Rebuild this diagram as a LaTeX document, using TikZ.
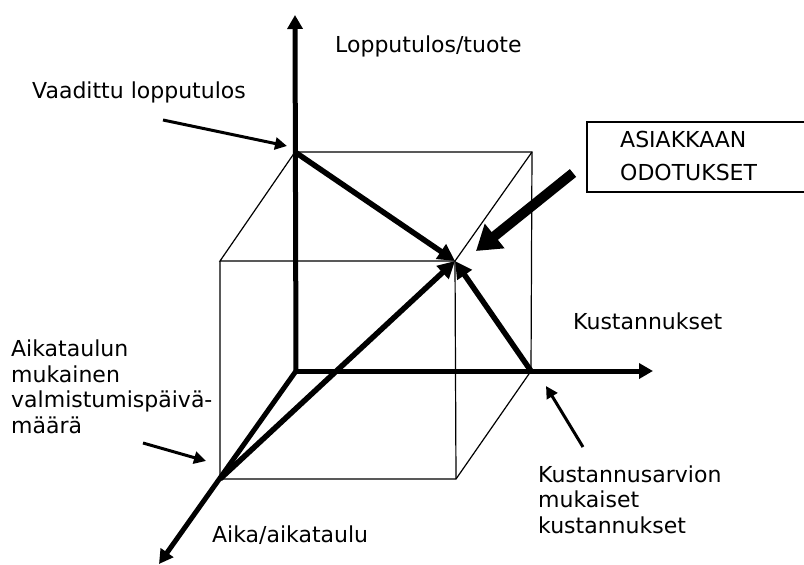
\documentclass[tikz,border=0pt]{standalone}
\usepackage{fontspec}
\setmainfont{DejaVu Sans}
\usetikzlibrary{arrows.meta}
\begin{document}
\begin{tikzpicture}[x=1pt,y=-1pt,
  lbl/.style={inner sep=0pt,anchor=base west,align=left,font=\fontsize{22}{25.5}\selectfont},
  boxlbl/.style={inner sep=0pt,anchor=base west,align=left,font=\fontsize{22}{33}\selectfont},
  axis/.style={line width=5pt,-{Triangle[length=14pt,width=15pt]}},
  edge/.style={line width=1.2pt},
  pull/.style={line width=5.5pt,-{Triangle[length=17pt,width=17pt]}},
  note/.style={line width=3pt,-{Triangle[length=12pt,width=12pt]}},
  bigpull/.style={line width=10pt,-{Triangle[length=24pt,width=30pt]}}]
\useasboundingbox (0,0) rectangle (804,565);

% corner points of the cube
\coordinate (O) at (296,371);
\coordinate (A) at (295,152);
\coordinate (B) at (532,152);
\coordinate (C) at (220,261);
\coordinate (T) at (455,261);
\coordinate (D) at (220,479);
\coordinate (E) at (456,479);
\coordinate (F) at (531,371);
% axis ends
\coordinate (Ytip) at (295,15);
\coordinate (Xtip) at (653,371);
\coordinate (Ztip) at (159,564);

% thin cube edges
\draw[edge] (A) -- (B) -- (F);
\draw[edge] (A) -- (C) -- (T) -- (B);
\draw[edge] (C) -- (D) -- (E) -- (F);
\draw[edge] (T) -- (E);

% axes
\draw[axis] (O) -- (Ytip);
\draw[axis] (O) -- (Xtip);
\draw[axis] (O) -- (Ztip);

% arrows meeting at the expectation corner
\draw[pull] (A) -- (T);
\draw[pull] (D) -- (T);
\draw[pull] (F) -- (T);

% expectations box (open to the right)
\draw[edge] (804,122) -- (587,122) -- (587,192) -- (804,192);
\node[boxlbl] (odot) at (620,180) {ASIAKKAAN\\ODOTUKSET};
\coordinate (bigtail) at (573,173);
\coordinate (bigtip) at (476,251);
\draw[bigpull] (bigtail) -- (bigtip);

% labels (multi-line labels are anchored on their last baseline)
\node[lbl] (ylab) at (335,52) {Lopputulos/tuote};
\node[lbl] (req) at (32,98) {Vaadittu lopputulos};
\node[lbl] (xlab) at (573,329) {Kustannukset};
\node[lbl] (zlab) at (212,542) {Aika/aikataulu};
\node[lbl] (sched) at (11,433) {Aikataulun\\mukainen\\valmistumispäivä-\\määrä};
\node[lbl] (cost) at (538,533) {Kustannusarvion\\mukaiset\\kustannukset};

% pointer arrows
\coordinate (reqtail) at (163,120);
\coordinate (reqtip) at (287,146);
\coordinate (schedtail) at (143,443);
\coordinate (schedtip) at (206,461);
\coordinate (costtail) at (583,447);
\coordinate (costtip) at (546,386);
\draw[note] (reqtail) -- (reqtip);
\draw[note] (schedtail) -- (schedtip);
\draw[note] (costtail) -- (costtip);
\end{tikzpicture}
\end{document}
